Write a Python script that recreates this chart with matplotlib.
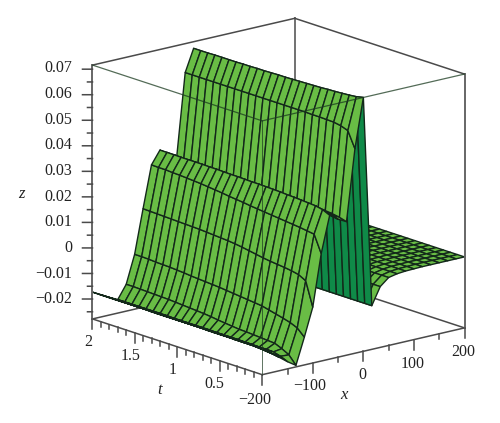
import numpy as np
import matplotlib
matplotlib.use('Agg')
import matplotlib.pyplot as plt

# grid of the surface
x_vals = np.linspace(-200, 200, 25)
t_vals = np.linspace(0, 2, 25)

# z, one row per t (t = 0 first), x from -200 to 0
z_left = [
    [-.0178, -.0201, -.0225, -.0250, -.0272, -.0169, -.0059, .0143, .0285, .0262, .0245, .0523, .0716],
    [-.0177, -.0198, -.0220, -.0238, -.0240, -.0142, .0035, .0210, .0298, .0270, .0253, .0585, .0710],
    [-.0176, -.0194, -.0212, -.0230, -.0225, -.0130, .0050, .0214, .0304, .0274, .0258, .0595, .0707],
    [-.0176, -.0194, -.0212, -.0229, -.0213, -.0122, .0056, .0218, .0306, .0277, .0261, .0600, .0705],
    [-.0176, -.0194, -.0212, -.0229, -.0211, -.0115, .0060, .0221, .0308, .0279, .0264, .0601, .0703],
    [-.0175, -.0193, -.0211, -.0228, -.0209, -.0108, .0063, .0224, .0310, .0281, .0266, .0602, .0702],
    [-.0175, -.0193, -.0211, -.0228, -.0207, -.0101, .0066, .0227, .0311, .0283, .0268, .0602, .0700],
    [-.0175, -.0193, -.0211, -.0227, -.0205, -.0098, .0070, .0230, .0313, .0285, .0270, .0603, .0699],
    [-.0175, -.0193, -.0211, -.0227, -.0204, -.0095, .0075, .0233, .0314, .0286, .0271, .0603, .0698],
    [-.0174, -.0192, -.0210, -.0227, -.0201, -.0092, .0080, .0236, .0315, .0288, .0273, .0603, .0697],
    [-.0174, -.0192, -.0210, -.0227, -.0198, -.0089, .0085, .0239, .0316, .0289, .0274, .0603, .0696],
    [-.0174, -.0192, -.0210, -.0226, -.0195, -.0086, .0089, .0243, .0316, .0290, .0275, .0603, .0695],
    [-.0174, -.0192, -.0210, -.0226, -.0191, -.0083, .0092, .0246, .0317, .0291, .0276, .0603, .0695],
    [-.0174, -.0192, -.0210, -.0226, -.0188, -.0081, .0094, .0249, .0318, .0292, .0277, .0603, .0694],
    [-.0174, -.0192, -.0210, -.0226, -.0186, -.0079, .0096, .0253, .0318, .0292, .0278, .0603, .0693],
    [-.0174, -.0192, -.0210, -.0226, -.0184, -.0077, .0098, .0256, .0319, .0293, .0279, .0603, .0693],
    [-.0174, -.0192, -.0210, -.0226, -.0182, -.0075, .0100, .0259, .0320, .0294, .0280, .0603, .0692],
    [-.0173, -.0191, -.0209, -.0225, -.0180, -.0072, .0101, .0262, .0320, .0295, .0280, .0603, .0692],
    [-.0173, -.0191, -.0209, -.0225, -.0178, -.0070, .0102, .0264, .0321, .0295, .0281, .0603, .0691],
    [-.0173, -.0191, -.0209, -.0225, -.0177, -.0068, .0103, .0266, .0321, .0296, .0281, .0603, .0691],
    [-.0173, -.0191, -.0209, -.0225, -.0176, -.0067, .0104, .0268, .0321, .0296, .0282, .0603, .0691],
    [-.0173, -.0191, -.0209, -.0225, -.0175, -.0066, .0105, .0269, .0321, .0296, .0282, .0603, .0691],
    [-.0173, -.0191, -.0209, -.0225, -.0174, -.0064, .0106, .0271, .0322, .0297, .0283, .0603, .0690],
    [-.0173, -.0191, -.0209, -.0225, -.0173, -.0063, .0107, .0271, .0322, .0297, .0283, .0603, .0690],
    [-.0173, -.0191, -.0209, -.0225, -.0173, -.0063, .0108, .0272, .0322, .0297, .0283, .0603, .0690],
]
# right of the ridge (x from 17 to 200) the sheet does not change with t
z_right = [-.0107, -.0040, -.0012, -.0005, -.0002, -.0001, 0.0, 0.0, 0.0, 0.0, 0.0, 0.0]

z_labels = ['\u22120.02', '\u22120.01', '0', '0.01', '0.02', '0.03', '0.04', '0.05', '0.06', '0.07']
x_labels = ['\u2212200', '\u2212100', '0', '100', '200']
t_labels = ['2', '1.5', '1', '0.5']

x_lim = (-200, 200)
t_lim = (0, 2)
z_lim = (-0.0278, 0.0716)

plt.rcParams['font.family'] = ['Liberation Serif', 'DejaVu Serif']

fig = plt.figure(figsize=(5, 4.23), dpi=100)
ax = fig.add_axes([50.5 / 500, -1.5 / 423, 444 / 500, 444 / 423], projection='3d', computed_zorder=False)
ax.set_proj_type('ortho')
elev, azim = 16, -130
ax.view_init(elev=elev, azim=azim)
ax.set_box_aspect((1, 1, 1))
ax.set_xlim(*x_lim, view_margin=0)
ax.set_ylim(*t_lim, view_margin=0)
ax.set_zlim(*z_lim, view_margin=0)
ax.set_axis_off()

X, T = np.meshgrid(x_vals, t_vals)
Z = np.hstack([np.array(z_left), np.tile(z_right, (len(t_vals), 1))])

# cells seen from underneath get the dark green
zb = (Z - z_lim[0]) / (z_lim[1] - z_lim[0])
dzdx = (zb[:-1, 1:] - zb[:-1, :-1] + zb[1:, 1:] - zb[1:, :-1]) / 2 * 24
dzdt = (zb[1:, :-1] - zb[:-1, :-1] + zb[1:, 1:] - zb[:-1, 1:]) / 2 * 24
el, az = np.radians(elev), np.radians(azim)
facing = -dzdx * np.cos(el) * np.cos(az) - dzdt * np.cos(el) * np.sin(az) + np.sin(el)
fc = np.empty(facing.shape + (4,))
fc[facing >= 0] = matplotlib.colors.to_rgba('#69bd45')
fc[facing < 0] = matplotlib.colors.to_rgba('#0f8a48')

box_col = '#4a4a4a'


def line(p, q, z=1, col=box_col, **kw):
    ax.plot([p[0], q[0]], [p[1], q[1]], [p[2], q[2]], color=col, lw=kw.pop('lw', 1.1), zorder=z, **kw)


def label(px, py, s, ha='center', **kw):
    fig.text(px / 500, 1 - py / 423, s, ha=ha, va='center', color='#222222', fontsize=kw.pop('fontsize', 11.5), **kw)


x0, x1 = x_lim
t0, t1 = t_lim
zb0, zb1 = z_lim

# back of the box
line((x0, t1, zb0), (x1, t1, zb0))
line((x1, t1, zb0), (x1, t0, zb0))
line((x1, t1, zb0), (x1, t1, zb1), lw=1.3, col='#666666')
line((x0, t1, zb1), (x1, t1, zb1))
line((x1, t1, zb1), (x1, t0, zb1))

ax.plot_surface(X, T, Z, facecolors=fc, shade=False, rstride=1, cstride=1,
                edgecolor='#13281a', linewidth=1.0, zorder=2, antialiased=True)

# front of the box
over = '#1a3a1f'
line((x0, t0, zb0), (x0, t1, zb0), z=3)
line((x0, t0, zb0), (x1, t0, zb0), z=3)
line((x0, t1, zb0), (x0, t1, zb1), z=3, lw=1.4, col='#666666')
line((x1, t0, zb0), (x1, t0, zb1), z=3, lw=1.4, col='#666666')
line((x0, t0, zb0), (x0, t0, zb1), z=3, lw=0.7, col=over, alpha=0.7)
line((x0, t1, zb1), (x0, t0, zb1), z=3, lw=0.9, col=over, alpha=0.75)
line((x1, t0, zb1), (x0, t0, zb1), z=3, lw=0.9, col=over, alpha=0.75)

# one pixel on screen, in data units
px_z = (z_lim[1] - z_lim[0]) / 255
left_x, left_t = -1.16, 0.00487

for v in np.arange(-0.025, 0.0701, 0.005):
    n = 10 if abs(v * 100 - round(v * 100)) < 1e-6 else 5
    line((x0, t1, v), (x0 + left_x * n, t1 + left_t * n, v), z=3)
for v in np.arange(-200, 201, 50):
    n = 10 if v % 100 == 0 else 5
    line((v, t0, zb0), (v, t0, zb0 - px_z * n), z=3)
for v in np.arange(0.1, 2.01, 0.1):
    n = 10 if abs(v * 2 - round(v * 2)) < 1e-6 else 5
    line((x0, v, zb0), (x0, v, zb0 - px_z * n), z=3)

for s, py in zip(z_labels, [299, 273.5, 248, 222, 196.5, 171, 145, 119.5, 94, 68]):
    label(72.5, py, s, ha='right')
for s, px, py in zip(x_labels, [255, 310, 362, 413, 463], [400, 386, 375, 364, 352]):
    label(px, py, s)
for s, px, py in zip(t_labels, [88, 131, 173, 214], [342, 356, 370, 384]):
    label(px, py, s)

label(21, 194, 'z', style='italic', fontsize=12)
label(160, 390, 't', style='italic', fontsize=12)
label(344, 395, 'x', style='italic', fontsize=12)

fig.savefig('out.png', dpi=100)
